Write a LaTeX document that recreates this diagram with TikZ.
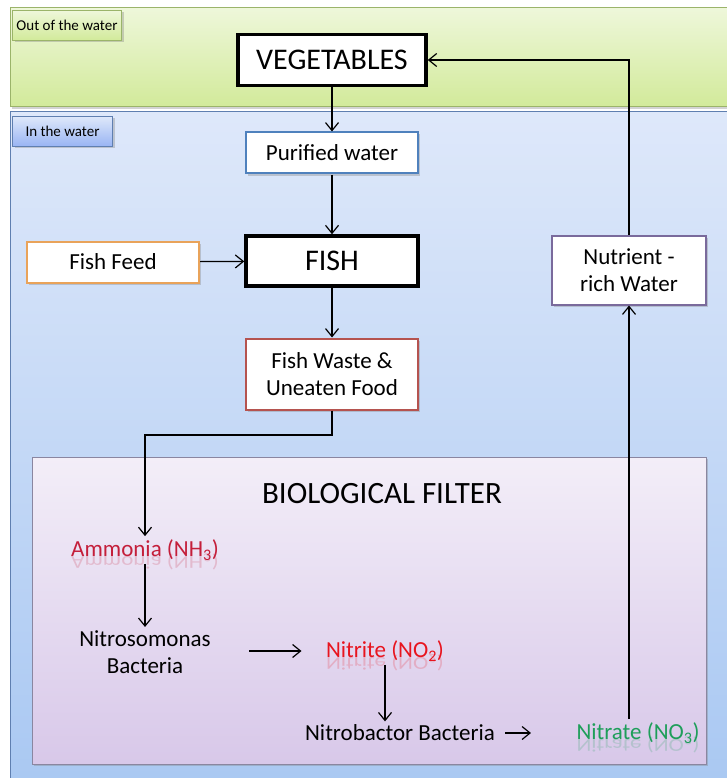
\documentclass[tikz,border=0pt]{standalone}
\usepackage{fontspec}
\setmainfont{Carlito}
\usepackage{graphicx}
\usepackage{tikz}
\usetikzlibrary{arrows.meta}
\usetikzlibrary{shadows}
\usetikzlibrary{positioning}

\definecolor{greentop}{HTML}{EEF7DA}
\definecolor{greenbot}{HTML}{D2EA9A}
\definecolor{greenline}{HTML}{9BB46A}
\definecolor{bluetop}{HTML}{DEE8FA}
\definecolor{bluebot}{HTML}{A9C8F2}
\definecolor{blueline}{HTML}{5F7FB0}
\definecolor{filttop}{HTML}{F3EEF8}
\definecolor{filtbot}{HTML}{D8C8E9}
\definecolor{filtline}{HTML}{8A86A0}
\definecolor{purblue}{HTML}{4F81BD}
\definecolor{feedorange}{HTML}{E9A35A}
\definecolor{wastered}{HTML}{B5534F}
\definecolor{nutpurple}{HTML}{7A6A9C}
\definecolor{ammred}{HTML}{C41E3A}
\definecolor{nitred}{HTML}{E8141E}
\definecolor{nitgreen}{HTML}{1E9E5A}

\tikzset{
  shad/.style={drop shadow={opacity=.35, shadow xshift=2pt, shadow yshift=-2pt}},
  box/.style={draw, fill=white, line width=2pt, minimum width=172pt, minimum height=41pt,
    align=center, font=\fontsize{23}{27}\selectfont, shad},
  bigbox/.style={box, line width=3.5pt, draw=black, font=\fontsize{30}{34}\selectfont},
  tag/.style={draw, line width=1pt, inner sep=3pt, font=\fontsize{15}{18}\selectfont, shad},
  chem/.style={font=\fontsize{23}{27}\selectfont, align=center},
  mirror/.style={chem, opacity=.2, inner sep=0pt, anchor=base},
  link/.style={-{Straight Barb[length=8pt, width=13pt]}, line width=1.2pt}
}

\newcommand{\flip}[1]{\scalebox{1}[-0.8]{#1}}

\begin{document}
\begin{tikzpicture}[x=1pt, y=-1pt]
\useasboundingbox (0,0) rectangle (726,778);

% the two zones and the filter
\shade[top color=greentop, bottom color=greenbot, draw=greenline, line width=1pt, shad] (10,8) rectangle (740,107);
\shade[top color=bluetop, bottom color=bluebot, draw=blueline, line width=1pt, shad] (10,112) rectangle (740,790);
\shade[top color=filttop, bottom color=filtbot, draw=filtline, line width=1pt, shad] (32,457) rectangle (706,764);

\node[tag, top color=greentop, bottom color=greenbot, draw=greenline, minimum width=109pt, minimum height=30pt, anchor=north west] (outtag) at (12,10) {Out of the water};
\node[tag, top color=bluetop, bottom color=bluebot!90!blue, draw=blueline, minimum width=100pt, minimum height=30pt, anchor=north west] (intag) at (12,116) {In the water};

% boxes
\node[bigbox, minimum width=188pt, minimum height=51pt] (veg) at (332,60) {VEGETABLES};
\node[box, draw=purblue] (pure) at (332,153) {Purified water};
\node[bigbox, minimum height=50pt] (fish) at (332,261) {FISH};
\node[box, draw=feedorange] (feed) at (113,262) {Fish Feed};
\node[box, draw=wastered, minimum height=71pt] (waste) at (332,374) {Fish Waste \&\\Uneaten Food};
\node[box, draw=nutpurple, minimum width=154pt, minimum height=69pt] (nutr) at (629,270) {Nutrient -\\rich Water};

% biological filter
\node[font=\fontsize{31}{36}\selectfont] (filt) at (382,494) {BIOLOGICAL FILTER};
\node[chem, text=ammred] (amm) at (145,550) {Ammonia (NH\textsubscript{3})};
\node[chem] (nsom) at (145,652) {Nitrosomonas\\Bacteria};
\node[chem, text=nitred] (nite) at (385,651) {Nitrite (NO\textsubscript{2})};
\node[chem] (nbac) at (400,733) {Nitrobactor Bacteria};
\node[chem, text=nitgreen] (nate) at (638,733) {Nitrate (NO\textsubscript{3})};

% reflections
\node[mirror, text=ammred] at (amm.base) {\flip{Ammonia (NH\textsubscript{3})}};
\node[mirror, text=nitred] at (nite.base) {\flip{Nitrite (NO\textsubscript{2})}};
\node[mirror, text=nitgreen] at (nate.base) {\flip{Nitrate (NO\textsubscript{3})}};

% flow
\coordinate (bend) at (145,435);
\draw[link] (veg) -- (pure);
\draw[link] (pure) -- (fish);
\draw[link] (feed) -- (fish);
\draw[link] (fish) -- (waste);
\draw[link] (waste.south) -- (waste.south |- bend) -- (bend) -- (amm.north);
\draw[link] (amm) -- (nsom);
\draw[link, shorten <=35pt, shorten >=21pt] (nsom.east |- nite) -- (nite.west);
\draw[link] (nite.south) -- (nite.south |- nbac.north);
\draw[link, shorten <=7pt, shorten >=42pt] (nbac.east) -- (nate.west);
\draw[link] (nate.north -| nutr) -- (nutr.south);
\draw[link] (nutr.north) |- (veg.east);
\end{tikzpicture}
\end{document}
